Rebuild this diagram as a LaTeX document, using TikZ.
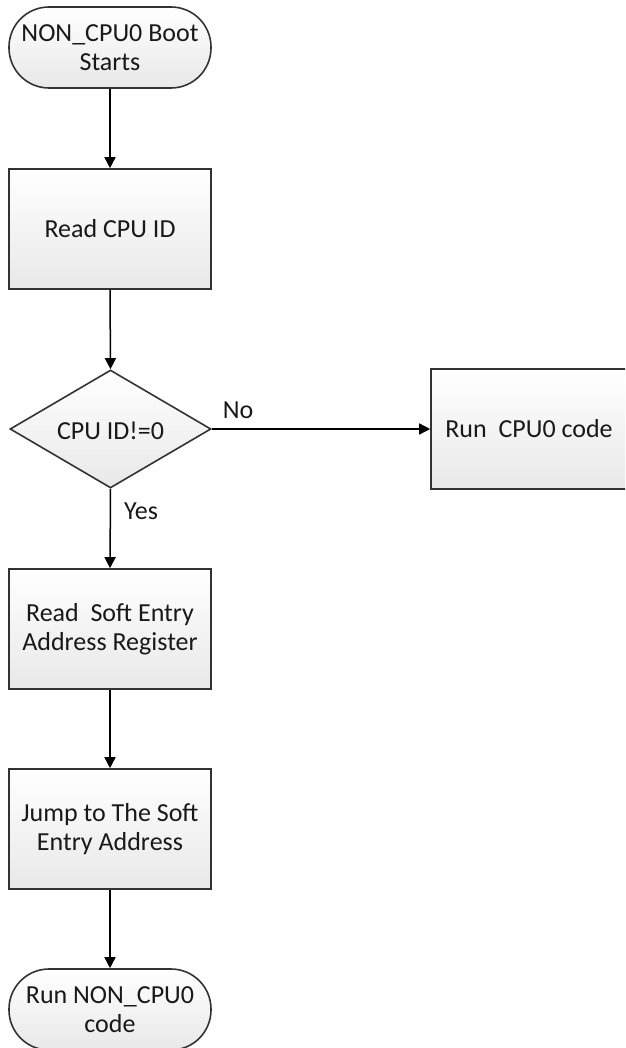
\documentclass[tikz,border=0pt]{standalone}
\usepackage{fontspec}
\setmainfont{Carlito}
\usetikzlibrary{shapes.geometric,arrows.meta}
\begin{document}
\begin{tikzpicture}[x=1pt,y=-1pt,
  every node/.style={font=\fontsize{26}{29}\selectfont, text=black!90},
  shapeline/.style={draw=black!80, line width=1.6pt, top color=white, bottom color=black!9},
  procbox/.style={shapeline, rectangle, minimum width=202pt, minimum height=120pt, align=center, inner sep=0pt},
  term/.style={shapeline, rectangle, rounded corners=40pt, minimum width=202pt, minimum height=81pt, align=center, inner sep=0pt},
  decision/.style={shapeline, diamond, aspect=1.7, minimum width=201pt, minimum height=118pt, inner sep=0pt},
  conn/.style={draw=black, line width=1.5pt, -{Triangle[length=11pt,width=11pt]}},
  lbl/.style={inner sep=0pt}
]
\clip (0,0) rectangle (625,1048);
\useasboundingbox (0,0) rectangle (625,1048);
\fill[white] (0,0) rectangle (625,1048);

\node[term] (start) at (110,47.5) {NON\_CPU0 Boot\\Starts};
\node[procbox] (read) at (110,229) {Read CPU ID};
\node[decision] (dec) at (110.5,429) {};
\node at (110.5,431) {CPU ID!=0};
\node[procbox, minimum width=196pt] (run0) at (529,429) {Run\ \ CPU0 code};
\node[procbox] (soft) at (110,629) {Read\ \ Soft Entry\\Address Register};
\node[procbox] (jump) at (110,829) {Jump to The Soft\\Entry Address};
\node[term] (end) at (110,1009.5) {Run NON\_CPU0\\code};

\draw[conn] (start.south) -- (read.north);
\draw[conn] (read.south) -- (dec.north);
\draw[conn] (dec.east) -- (run0.west);
\draw[conn] (dec.south) -- (soft.north);
\draw[conn] (soft.south) -- (jump.north);
\draw[conn] (jump.south) -- (end.north);

\node[lbl] (no) at (238,410) {No};
\node[lbl] (yes) at (141,511) {Yes};
\end{tikzpicture}
\end{document}
